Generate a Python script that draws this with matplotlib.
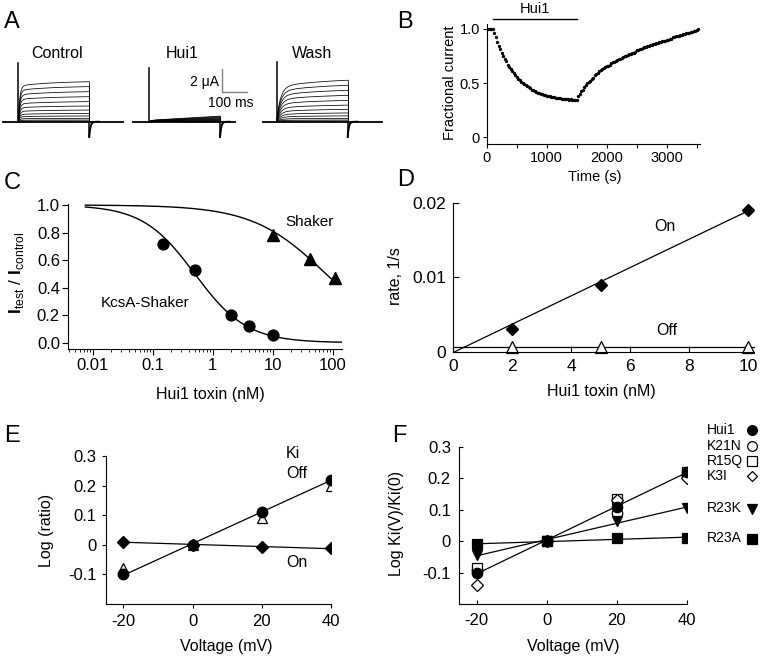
import matplotlib
matplotlib.use("Agg")
import matplotlib.pyplot as plt
import numpy as np

plt.rcParams['font.family'] = ['Liberation Sans', 'DejaVu Sans']
plt.rcParams['mathtext.fontset'] = 'custom'
plt.rcParams['mathtext.rm'] = 'Liberation Sans'
plt.rcParams['mathtext.bf'] = 'Liberation Sans:bold'
plt.rcParams['axes.linewidth'] = 0.8
plt.rcParams['axes.unicode_minus'] = False

# ---- data ----
# A: current families (uA), steady amplitude of each sweep
control_amps = [3.57, 3.13, 2.68, 2.23, 1.79, 1.40, 1.04, 0.74, 0.51, 0.30, 0.15, 0.06]
hui1_amps = [0.50, 0.44, 0.38, 0.32, 0.26, 0.21, 0.16, 0.11, 0.07, 0.04, 0.02, 0.01]
wash_amps = [3.70, 3.25, 2.80, 2.35, 1.90, 1.48, 1.10, 0.78, 0.52, 0.30, 0.15, 0.06]

# B: fractional current, sampled every 25 s from t = 0
b_step = 25
b_current = [1.00, 1.00, 1.00, 1.00,
             1.00, 0.96, 0.92, 0.88, 0.84, 0.81, 0.78, 0.75, 0.72, 0.70,
             0.67, 0.65, 0.63, 0.61, 0.59, 0.57, 0.56, 0.54, 0.53, 0.51,
             0.50, 0.49, 0.48, 0.47, 0.46, 0.45, 0.44, 0.44, 0.43, 0.42,
             0.41, 0.41, 0.40, 0.40, 0.39, 0.39, 0.38, 0.38, 0.38, 0.37,
             0.37, 0.37, 0.36, 0.36, 0.36, 0.36, 0.35, 0.35, 0.35, 0.35,
             0.35, 0.34, 0.35, 0.34, 0.34, 0.34, 0.34,
             0.38, 0.40, 0.43, 0.44, 0.46, 0.48, 0.50, 0.51, 0.52, 0.54,
             0.55, 0.57, 0.58, 0.59, 0.61, 0.62, 0.63, 0.64, 0.65, 0.66,
             0.66, 0.67, 0.68, 0.69, 0.69, 0.70, 0.71, 0.72, 0.72, 0.73,
             0.74, 0.75, 0.75, 0.76, 0.77, 0.77, 0.78, 0.78, 0.79, 0.80,
             0.80, 0.81, 0.81, 0.82, 0.83, 0.83, 0.84, 0.84, 0.85, 0.85,
             0.86, 0.86, 0.87, 0.87, 0.88, 0.88, 0.89, 0.89, 0.89, 0.90,
             0.90, 0.91, 0.91, 0.92, 0.92, 0.93, 0.93, 0.93, 0.94, 0.94,
             0.95, 0.95, 0.96, 0.96, 0.96, 0.97, 0.97, 0.98, 0.98, 0.99, 1.00]
b_toxin_on = [100, 1510]

# C: dose response
kcsa_conc = [0.15, 0.5, 2, 4, 10]
kcsa_frac = [0.72, 0.53, 0.20, 0.12, 0.055]
shaker_conc = [10, 42, 110]
shaker_frac = [0.78, 0.61, 0.47]
shaker_err = [0.04, 0.02, 0.04]
kcsa_ic50, kcsa_hill = 0.5, 1.0
shaker_ic50, shaker_hill = 77.0, 0.71

# D: rates
d_conc = [2, 5, 10]
on_rate = [0.003, 0.009, 0.019]
on_err = [0.0006, 0.0006, 0.0002]
off_rate = [0.0006, 0.0006, 0.0006]
on_slope, on_icpt = 0.0019, -0.0001

# E: log ratios vs voltage
volt = [-20, 0, 20, 40]
e_ki = [-0.10, 0.0, 0.11, 0.22]
e_off = [-0.08, 0.0, 0.09, 0.20]
e_on = [0.01, 0.0, -0.007, -0.012]

# F: mutants
f_names = ['Hui1', 'K21N', 'R15Q', 'K3I', 'R23K', 'R23A']
f_vals = {
    'Hui1': [-0.10, 0.0, 0.11, 0.22],
    'K21N': [-0.09, 0.0, 0.09, 0.21],
    'R15Q': [-0.085, 0.0, 0.135, 0.22],
    'K3I': [-0.14, 0.0, 0.13, 0.20],
    'R23K': [-0.045, 0.0, 0.065, 0.105],
    'R23A': [-0.01, 0.0, 0.01, 0.01],
}
f_style = {
    'Hui1': ('o', 'black'), 'K21N': ('o', 'white'), 'R15Q': ('s', 'white'),
    'K3I': ('D', 'white'), 'R23K': ('v', 'black'), 'R23A': ('s', 'black'),
}

W, H = 762, 657
fig = plt.figure(figsize=(W / 100, H / 100), dpi=100)


def box(l, t, r, b):
    return [l / W, 1 - b / H, (r - l) / W, (b - t) / H]


def ftext(x, y, s, **kw):
    kw.setdefault('ha', 'center')
    kw.setdefault('va', 'center')
    fig.text(x / W, 1 - y / H, s, **kw)


def clean(ax):
    ax.spines['top'].set_visible(False)
    ax.spines['right'].set_visible(False)


# ---- A ----
axA = fig.add_axes(box(0, 50, 395, 145))
axA.set_xlim(0, 1619)
axA.set_ylim(-2.08, 6.40)
axA.axis('off')
dur = 291
panels = [(12, 504, 75, control_amps, 'ctrl', 5.24),
          (545, 963, 611, hui1_amps, 'hui', 4.77),
          (1078, 1565, 1134, wash_amps, 'wash', 5.3)]
for x0, x1, ton, amps, kind, spike in panels:
    toff = ton + dur
    axA.plot([x0, x1], [0, 0], color='black', lw=1.3)
    tt = np.linspace(0, dur, 300)
    for a in amps:
        if kind == 'ctrl':
            shape = (1 - np.exp(-tt / 6)) * (0.88 + 0.12 * (1 - np.exp(-tt / 150)))
        elif kind == 'wash':
            shape = (1 - np.exp(-tt / 15)) * (0.8 + 0.2 * (1 - np.exp(-tt / 200)))
        else:
            shape = 0.25 * (1 - np.exp(-tt / 8)) + 0.75 * tt / dur
        shape = shape / shape[-1]
        axA.plot(ton + tt, a * shape, color='black', lw=0.55)
        axA.plot([toff, toff], [a, 0], color='black', lw=0.55)
    axA.plot([ton, ton], [0, spike], color='black', lw=1.1)
    td = np.linspace(0, 40, 100)
    axA.plot(toff + td, -1.34 * np.exp(-td / 5), color='black', lw=1.4)
    axA.plot([toff, toff], [0, -1.34], color='black', lw=1.1)
# scale bar
axA.plot([911, 911, 1011], [4.68, 2.68, 2.68], color='0.5', lw=1)
axA.text(899, 3.57, '2 μA', ha='right', va='center', fontsize=10)
axA.text(1037, 1.64, '100 ms', ha='right', va='center', fontsize=10)
ftext(56.7, 53.3, 'Control', fontsize=11.5)
ftext(181.7, 53.3, 'Hui1', fontsize=11.5)
ftext(311.7, 53.3, 'Wash', fontsize=11.5)

# ---- B ----
axB = fig.add_axes(box(486.7, 24.4, 699.7, 143.8))
clean(axB)
b_time = np.arange(len(b_current)) * b_step
axB.plot(b_time, b_current, 'o', color='black', ms=2.4, mec='none')
axB.set_xlim(0, 3550)
axB.set_ylim(-0.06, 1.04)
axB.set_xticks(np.arange(0, 3501, 500))
axB.set_xticklabels(['0', '', '1000', '', '2000', '', '3000', ''])
axB.set_yticks([0, 0.5, 1.0])
axB.set_yticklabels(['0', '0.5', '1.0'])
axB.tick_params(labelsize=10.5, length=3, width=0.8, pad=2)
axB.plot(b_toxin_on, [1.09, 1.09], color='black', lw=1, clip_on=False)
axB.text(np.mean(b_toxin_on), 1.185, 'Hui1', ha='center', va='center',
         fontsize=10.5)
ftext(595, 176.7, 'Time (s)', fontsize=10.5)
ftext(450, 83, 'Fractional current', fontsize=10.5, rotation=90)

# ---- C ----
axC = fig.add_axes(box(68.3, 203.6, 341.7, 349.3))
clean(axC)
axC.set_xscale('log')
xc = np.logspace(np.log10(0.0075), np.log10(141), 300)
axC.plot(xc, 1 / (1 + (xc / kcsa_ic50) ** kcsa_hill), color='black', lw=1)
xs = np.logspace(np.log10(0.0075), np.log10(115), 300)
axC.plot(xs, 1 / (1 + (xs / shaker_ic50) ** shaker_hill), color='black', lw=1)
axC.plot(kcsa_conc, kcsa_frac, 'o', color='black', ms=7.8)
axC.errorbar(shaker_conc, shaker_frac, yerr=shaker_err, fmt='^', color='black',
             ms=8.5, elinewidth=1, capsize=0)
axC.set_xlim(0.0039, 141)
axC.set_ylim(-0.048, 1.01)
axC.set_xticks([0.01, 0.1, 1, 10, 100])
axC.set_xticklabels(['0.01', '0.1', '1', '10', '100'])
axC.set_yticks(np.arange(0, 1.01, 0.2))
axC.set_yticklabels(['0.0', '0.2', '0.4', '0.6', '0.8', '1.0'])
axC.tick_params(labelsize=12, length=4, width=0.8, pad=2)
axC.tick_params(which='minor', length=2, width=0.6)
ftext(310, 222, 'Shaker', fontsize=11)
ftext(145, 302.7, 'KcsA-Shaker', fontsize=11)
ftext(210, 395, 'Hui1 toxin (nM)', fontsize=11.5)
ftext(17, 273, r'$\mathbf{I}_{\mathrm{test}}$ / $\mathbf{I}_{\mathrm{control}}$',
      fontsize=12.5, rotation=90)

# ---- D ----
axD = fig.add_axes(box(453.3, 202.7, 754, 351.7))
clean(axD)
xl = np.array([0.05, 10])
axD.plot(xl, on_slope * xl + on_icpt, color='black', lw=0.9)
axD.plot([0, 10.2], [np.mean(off_rate)] * 2, color='black', lw=0.9, clip_on=False)
axD.errorbar(d_conc, on_rate, yerr=on_err, fmt='D', color='black', ms=6.5,
             elinewidth=1, capsize=0)
axD.plot(d_conc, off_rate, '^', mfc='white', mec='black', ms=8, mew=0.9,
         clip_on=False)
axD.set_xlim(0, 10.2)
axD.set_ylim(0, 0.02)
axD.set_xticks(np.arange(0, 11, 2))
axD.set_yticks([0, 0.01, 0.02])
axD.set_yticklabels(['0', '0.01', '0.02'])
axD.tick_params(direction='in', labelsize=12.5, length=4, width=0.8, pad=5)
ftext(665, 226.7, 'On', fontsize=11.5)
ftext(666.7, 330.7, 'Off', fontsize=11.5)
ftext(601.7, 391.7, 'Hui1 toxin (nM)', fontsize=11.5)
ftext(395, 276, 'rate, 1/s', fontsize=11.5, rotation=90)

# ---- E ----
axE = fig.add_axes(box(106, 456, 331, 604))
clean(axE)
ve = np.array([-20, 40])
k_fit = np.polyfit(volt, e_ki, 1)
on_fit = np.polyfit(volt, e_on, 1)
axE.plot(ve, np.polyval(k_fit, ve), color='black', lw=0.9)
axE.plot(ve, np.polyval(on_fit, ve), color='black', lw=0.9)
axE.plot(volt, e_on, 'D', color='black', ms=6)
axE.plot(volt, e_off, '^', mfc='white', mec='black', ms=7.5, mew=0.9)
axE.plot(volt, e_ki, 'o', color='black', ms=7.5)
axE.set_xlim(-25, 40)
axE.set_ylim(-0.2, 0.3)
axE.set_xticks(volt)
axE.set_yticks([-0.1, 0, 0.1, 0.2, 0.3])
axE.set_yticklabels(['-0.1', '0', '0.1', '0.2', '0.3'])
axE.tick_params(labelsize=12, length=3, width=0.8, pad=4)
ftext(293, 453.3, 'Ki', fontsize=11.5)
ftext(297, 473, 'Off', fontsize=11.5)
ftext(297, 562.7, 'On', fontsize=11.5)
ftext(226.7, 646.7, 'Voltage (mV)', fontsize=11.5)
ftext(46.7, 530, 'Log (ratio)', fontsize=11.5, rotation=90)

# ---- F ----
axF = fig.add_axes(box(459.3, 446.7, 686.7, 604.3))
clean(axF)
for name in ['Hui1', 'R23K', 'R23A']:
    fit = np.polyfit(volt, f_vals[name], 1)
    axF.plot(ve, np.polyval(fit, ve), color='black', lw=0.9)
for name in ['K21N', 'R15Q', 'K3I', 'Hui1', 'R23K', 'R23A']:
    m, fc = f_style[name]
    ms = 6 if m == 'D' else 7.5
    axF.plot(volt, f_vals[name], m, mfc=fc, mec='black', ms=ms, mew=0.9)
axF.set_xlim(-25, 40)
axF.set_ylim(-0.2, 0.3)
axF.set_xticks(volt)
axF.set_yticks([-0.1, 0, 0.1, 0.2, 0.3])
axF.set_yticklabels(['-0.1', '0', '0.1', '0.2', '0.3'])
axF.tick_params(direction='in', labelsize=12, length=3, width=0.8, pad=6)
ftext(573.3, 646.7, 'Voltage (mV)', fontsize=11.5)
ftext(396.7, 523, 'Log Ki(V)/Ki(0)', fontsize=11.5, rotation=90)
leg_y = [429.5, 445.5, 461, 476, 508.5, 538.5]
for name, yy in zip(f_names, leg_y):
    m, fc = f_style[name]
    ftext(707, yy, name, fontsize=10, ha='left')
    ms = 5.5 if m == 'D' else 7
    axF.plot([752 / W], [1 - yy / H], m, mfc=fc, mec='black', ms=ms, mew=0.9,
             transform=fig.transFigure, clip_on=False)

# panel letters
for lab, x, y in [('A', 4, 22), ('B', 397, 22), ('C', 4, 183), ('D', 397, 180),
                  ('E', 4, 436), ('F', 392, 436)]:
    ftext(x, y, lab, fontsize=17, ha='left')

fig.savefig('out.png', dpi=100)
